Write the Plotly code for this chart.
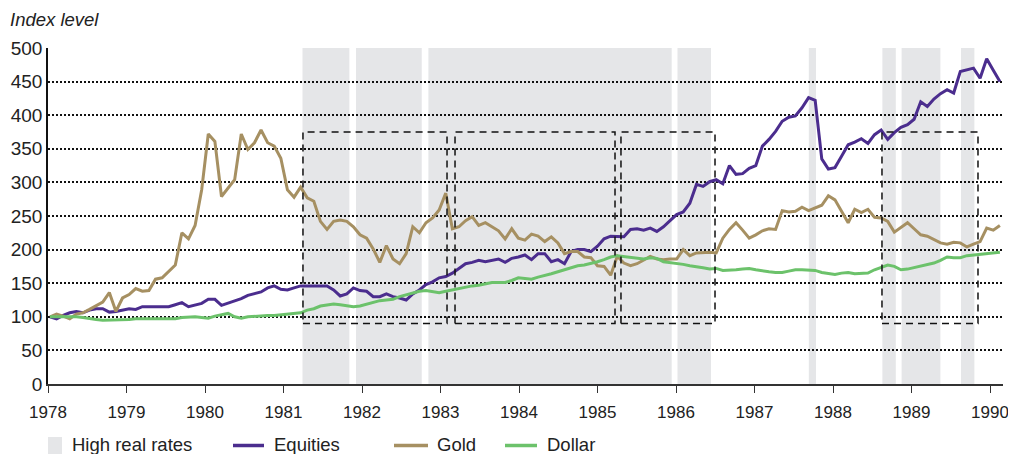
import plotly.graph_objects as go

# Index levels (base = 100), roughly monthly observations from early 1978 to early 1990
equities = [100, 97, 102, 106, 108, 106, 110, 112, 112, 107, 108, 110,
            112, 111, 115, 115, 115, 115, 115, 118, 121, 115, 118, 120,
            126, 126, 117, 120, 123, 127, 132, 134, 137, 143, 146, 141,
            140, 143, 146, 146, 146, 146, 146, 140, 131, 134, 143, 139,
            138, 130, 130, 134, 130, 128, 125, 134, 140, 148, 152, 158,
            160, 165, 172, 179, 181, 184, 182, 184, 186, 181, 187, 189,
            192, 185, 194, 194, 182, 185, 179, 197, 200, 200, 197, 205,
            216, 220, 220, 219, 230, 231, 229, 232, 227, 234, 243, 252,
            256, 269, 297, 294, 301, 304, 298, 325, 312, 313, 321, 325,
            354, 364, 376, 391, 397, 399, 411, 426, 422, 335, 320, 322,
            339, 356, 360, 365, 358, 371, 378, 364, 374, 382, 386, 394,
            420, 413, 424, 432, 438, 433, 465, 468, 470, 455, 484, 467,
            450]

gold = [100, 104, 101, 97, 104, 106, 111, 116, 122, 136, 108, 128,
        133, 142, 138, 139, 156, 158, 167, 177, 225, 216, 236, 289,
        372, 361, 279, 292, 304, 372, 349, 359, 378, 359, 354, 336,
        289, 278, 293, 277, 272, 242, 230, 242, 244, 242, 234, 222,
        217, 201, 181, 206, 186, 179, 194, 234, 225, 240, 247, 259,
        284, 231, 234, 243, 249, 236, 240, 234, 228, 216, 231, 217,
        214, 223, 220, 212, 219, 210, 194, 197, 197, 189, 188, 176,
        175, 162, 190, 180, 176, 179, 184, 190, 186, 185, 186, 186,
        200, 191, 195, 196, 196, 195, 217, 230, 240, 229, 217, 222,
        228, 231, 230, 258, 256, 257, 263, 258, 262, 266, 280, 274,
        257, 240, 260, 255, 260, 248, 247, 242, 226, 233, 240, 231,
        222, 220, 215, 210, 208, 211, 210, 204, 208, 212, 232, 229,
        236]

dollar = [100, 100, 100, 101, 100, 99, 97, 96, 95, 95, 95, 96,
          96, 97, 97, 98, 98, 97, 97, 97, 99, 100, 100, 99,
          98, 101, 103, 105, 100, 98, 100, 101, 101, 102, 102, 103,
          104, 105, 106, 110, 112, 116, 118, 119, 118, 117, 115, 116,
          119, 122, 124, 125, 126, 130, 133, 135, 138, 139, 138, 136,
          138, 140, 143, 145, 146, 147, 149, 151, 151, 151, 154, 158,
          157, 156, 159, 161, 164, 167, 170, 174, 176, 177, 179, 182,
          185, 189, 191, 190, 189, 188, 186, 188, 187, 182, 181, 180,
          178, 176, 175, 173, 171, 172, 169, 169, 170, 171, 172, 170,
          168, 167, 166, 166, 168, 170, 170, 169, 169, 166, 164, 163,
          165, 166, 164, 165, 165, 170, 174, 177, 175, 170, 171, 173,
          175, 177, 180, 184, 189, 188, 188, 191, 192, 192, 193, 194,
          196]

# time of each observation in decimal years (about 11.9 observations per year on the chart)
obs_start, obs_per_year = 1978.025, 11.9
t_years = [obs_start + k / obs_per_year for k in range(len(equities))]

# Periods of high real rates (shaded), decimal years
high_rate_periods = [
    (1981.242, 1981.839),
    (1981.924, 1982.761),
    (1982.846, 1985.945),
    (1986.019, 1986.446),
    (1987.692, 1987.783),
    (1988.629, 1988.800),
    (1988.874, 1989.368),
    (1989.631, 1989.801),
]

# Dashed boxes (highlighted episodes), decimal years
box_periods = [
    (1981.248, 1983.083),
    (1983.185, 1985.223),
    (1985.299, 1986.497),
    (1988.624, 1989.847),
]
box_low, box_high = 90, 375

tick_years = list(range(1978, 1991))
series_names = ["High real rates", "Equities", "Gold", "Dollar"]

C_EQ = "#4b2d8e"
C_GOLD = "#a69062"
C_USD = "#6cc26b"
C_SHADE = "#e5e6e8"
TXT = "#222222"
FONT = "Liberation Sans, Arial, sans-serif"

# page offset of the figure inside the browser window (default body margin)
OFF = 8
W, H = 1016 - OFF, 454 - OFF
# plot area in page pixels: left 48, right 1003, top 48, bottom 384
ML, MR, MT, MB = 48 - OFF, 1016 - 1003, 48 - OFF, 454 - 384
PW, PH = W - ML - MR, H - MT - MB
X_END = 1978 + PW / 78.5


def px(x):
    """page x pixel -> paper coordinate"""
    return (x - OFF - ML) / PW


def py(y):
    """page y pixel -> paper coordinate"""
    return (H - MB - (y - OFF)) / PH


fig = go.Figure()
fig.add_trace(go.Scatter(x=t_years, y=equities, mode="lines", name=series_names[1],
                         line=dict(color=C_EQ, width=3)))
fig.add_trace(go.Scatter(x=t_years, y=gold, mode="lines", name=series_names[2],
                         line=dict(color=C_GOLD, width=3)))
fig.add_trace(go.Scatter(x=t_years, y=dollar, mode="lines", name=series_names[3],
                         line=dict(color=C_USD, width=3)))

for s, e in high_rate_periods:
    fig.add_shape(type="rect", xref="x", yref="y", x0=s, x1=e, y0=0, y1=500,
                  fillcolor=C_SHADE, line=dict(width=0), layer="below")

for s, e in box_periods:
    fig.add_shape(type="rect", xref="x", yref="y", x0=s, x1=e,
                  y0=box_low, y1=box_high, fillcolor="rgba(0,0,0,0)",
                  line=dict(color="#111111", width=1.5, dash="7px,5px"),
                  layer="above")

# Legend (drawn manually to match spacing)
leg_y = 444.5
fig.add_shape(type="rect", xref="paper", yref="paper",
              x0=px(48), x1=px(62), y0=py(454), y1=py(437),
              fillcolor=C_SHADE, line=dict(width=0))
legend_lines = [(233, 264, C_EQ), (394, 428, C_GOLD), (505, 537, C_USD)]
for x0, x1, c in legend_lines:
    fig.add_shape(type="line", xref="paper", yref="paper",
                  x0=px(x0), x1=px(x1), y0=py(leg_y + 1), y1=py(leg_y + 1),
                  line=dict(color=c, width=3.5))
for name, xt in zip(series_names, [70, 272, 435, 545]):
    fig.add_annotation(text=name, xref="paper", yref="paper",
                       x=px(xt), y=py(leg_y), xanchor="left", yanchor="middle",
                       showarrow=False, font=dict(size=18.5, color=TXT, family=FONT))

fig.add_annotation(text="<i>Index level</i>", xref="paper", yref="paper",
                   x=px(8), y=py(19), xanchor="left", yanchor="middle",
                   showarrow=False, font=dict(size=18.5, color=TXT, family=FONT))

fig.update_layout(
    width=W, height=H,
    margin=dict(l=ML, r=MR, t=MT, b=MB, autoexpand=False),
    paper_bgcolor="white", plot_bgcolor="white",
    font=dict(family=FONT, size=18, color=TXT),
    showlegend=False,
    xaxis=dict(
        automargin=False,
        range=[1978, X_END],
        tickvals=tick_years,
        ticktext=[str(y) for y in tick_years],
        showgrid=False, showline=True, linecolor="#333333", linewidth=1.5,
        ticks="outside", ticklen=7, tickcolor="#333333", tickwidth=1,
        ticklabelstandoff=5,
        zeroline=False, tickfont=dict(size=17),
    ),
    yaxis=dict(
        range=[0, 500], tickvals=list(range(0, 501, 50)), automargin=False,
        showgrid=True, gridcolor="#111111", gridwidth=1.5, griddash="2px,2px",
        showline=True, linecolor="#111111", linewidth=1.5,
        ticks="", zeroline=False, tickfont=dict(size=19),
    ),
)

fig.write_html("out.html")
